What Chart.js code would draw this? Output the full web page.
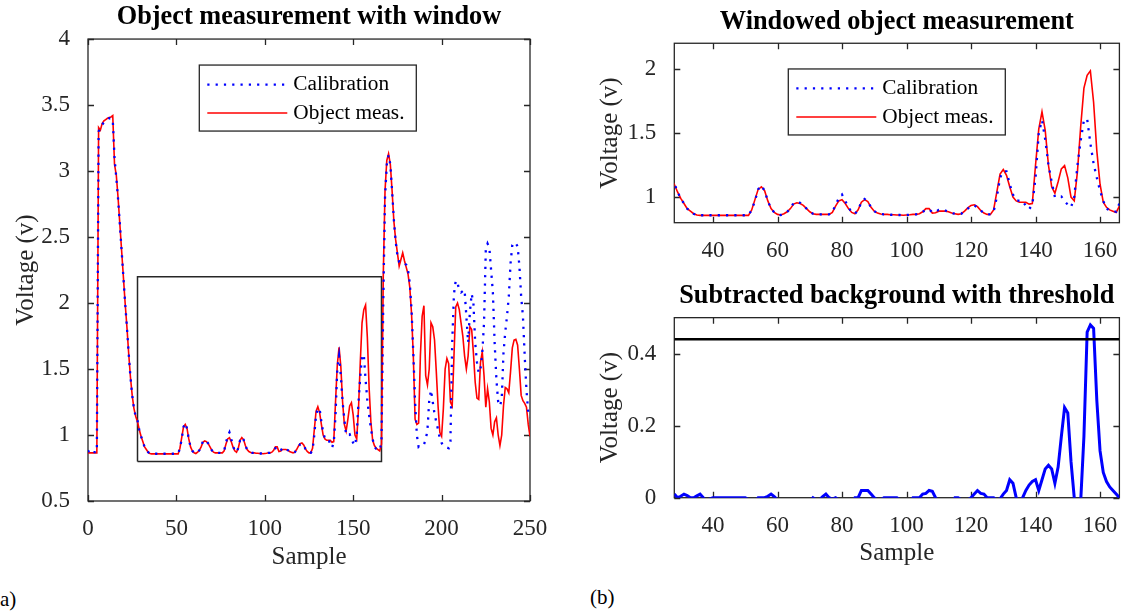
<!DOCTYPE html>
<html>
<head>
<meta charset="utf-8">
<script src="https://cdn.jsdelivr.net/npm/chart.js@4.4.1/dist/chart.umd.min.js"></script>
<style>
  body { margin: 0; background: #fff; width: 1121px; height: 612px; overflow: hidden; position: relative; font-family: "Liberation Serif", serif; }
  .panel { position: absolute; }
  .tag { position: absolute; font-size: 21px; color: #000; line-height: 1; }
</style>
</head>
<body>
<div class="panel" style="left:0;top:0;width:560px;height:580px"><canvas id="fullChart"></canvas></div>
<div class="panel" style="left:590px;top:0;width:531px;height:270px"><canvas id="windowChart"></canvas></div>
<div class="panel" style="left:590px;top:270px;width:531px;height:300px"><canvas id="diffChart"></canvas></div>
<div class="tag" style="left:-7px;top:589px">(a)</div>
<div class="tag" style="left:590px;top:587px">(b)</div>
<script>
const FONT = "'Liberation Serif', 'Times New Roman', serif";
const INK = "#262626";

// sample numbers 0..250
const samples = Array.from({ length: 251 }, (_, i) => i);

const calibration = [
  0.87, 0.89, 0.87, 0.87, 0.87, 0.87, 3.30, 3.32, 3.35, 3.37,
  3.38, 3.39, 3.40, 3.40, 3.39, 3.10, 2.95, 2.79, 2.60, 2.40,
  2.20, 2.00, 1.82, 1.62, 1.44, 1.30, 1.20, 1.14, 1.11, 1.04,
  0.99, 0.95, 0.91, 0.89, 0.87, 0.86, 0.858, 0.858, 0.858, 0.858,
  0.858, 0.858, 0.858, 0.858, 0.858, 0.858, 0.858, 0.858, 0.858, 0.858,
  0.858, 0.858, 0.90, 0.97, 1.06, 1.09, 1.05, 0.97, 0.91, 0.88,
  0.865, 0.86, 0.87, 0.885, 0.91, 0.955, 0.96, 0.955, 0.935, 0.91,
  0.885, 0.87, 0.865, 0.865, 0.865, 0.865, 0.865, 0.88, 0.94, 0.99,
  1.02, 0.97, 0.92, 0.88, 0.87, 0.90, 0.96, 0.985, 0.965, 0.92,
  0.89, 0.875, 0.868, 0.865, 0.865, 0.862, 0.862, 0.86, 0.86, 0.858,
  0.86, 0.862, 0.865, 0.865, 0.87, 0.885, 0.90, 0.905, 0.88, 0.885,
  0.90, 0.905, 0.895, 0.885, 0.875, 0.87, 0.865, 0.87, 0.89, 0.91,
  0.93, 0.935, 0.92, 0.895, 0.875, 0.865, 0.865, 0.885, 1.00, 1.15,
  1.20, 1.20, 1.10, 1.02, 0.975, 0.97, 0.97, 0.93, 0.905, 0.94,
  1.15, 1.50, 1.60, 1.45, 1.25, 1.12, 1.00, 1.00, 1.005, 0.97,
  0.94, 0.92, 1.00, 1.25, 1.44, 1.60, 1.61, 1.42, 1.26, 1.15,
  1.05, 0.97, 0.91, 0.895, 0.89, 0.885, 0.95, 2.00, 2.80, 3.05,
  3.12, 3.05, 2.85, 2.63, 2.47, 2.36, 2.31, 2.30, 2.30, 2.30,
  2.29, 2.25, 2.15, 1.95, 1.62, 1.25, 1.00, 0.91, 0.92, 0.93,
  0.93, 0.96, 1.04, 1.26, 1.34, 1.25, 1.16, 1.10, 1.04, 0.97,
  0.94, 0.92, 0.91, 0.905, 0.90, 0.95, 1.70, 2.07, 2.17, 2.15,
  2.10, 2.08, 2.09, 2.10, 1.90, 1.70, 1.93, 2.07, 2.00, 1.70,
  1.55, 1.47, 1.50, 1.62, 1.85, 2.40, 2.45, 2.42, 2.25, 2.08,
  1.70, 1.42, 1.25, 1.22, 1.27, 1.62, 1.78, 1.90, 2.05, 2.30,
  2.44, 2.46, 2.45, 2.43, 2.28, 2.05, 1.90, 1.60, 1.34, 1.17,
  1.13,
];

const objectMeas = [
  0.865, 0.865, 0.865, 0.865, 0.865, 0.865, 3.33, 3.31, 3.36, 3.38,
  3.39, 3.40, 3.405, 3.41, 3.42, 3.05, 2.97, 2.80, 2.60, 2.40,
  2.20, 2.00, 1.82, 1.62, 1.44, 1.30, 1.20, 1.14, 1.10, 1.04,
  0.99, 0.95, 0.91, 0.89, 0.87, 0.86, 0.857, 0.857, 0.857, 0.857,
  0.857, 0.857, 0.857, 0.857, 0.857, 0.857, 0.857, 0.857, 0.857, 0.857,
  0.857, 0.857, 0.90, 0.98, 1.06, 1.08, 1.05, 0.97, 0.91, 0.88,
  0.865, 0.86, 0.87, 0.885, 0.91, 0.945, 0.955, 0.95, 0.935, 0.91,
  0.885, 0.87, 0.865, 0.865, 0.865, 0.865, 0.865, 0.88, 0.93, 0.97,
  0.98, 0.95, 0.91, 0.88, 0.87, 0.90, 0.96, 0.98, 0.965, 0.92,
  0.89, 0.875, 0.868, 0.865, 0.865, 0.862, 0.862, 0.86, 0.86, 0.858,
  0.86, 0.862, 0.865, 0.865, 0.87, 0.885, 0.91, 0.91, 0.875, 0.878,
  0.89, 0.89, 0.89, 0.885, 0.875, 0.87, 0.865, 0.87, 0.89, 0.915,
  0.935, 0.94, 0.925, 0.895, 0.875, 0.865, 0.865, 0.90, 1.04, 1.18,
  1.215, 1.17, 1.08, 1.00, 0.97, 0.96, 0.96, 0.96, 0.945, 0.95,
  1.25, 1.53, 1.665, 1.52, 1.25, 1.08, 1.03, 1.12, 1.22, 1.245,
  1.15, 1.00, 0.97, 1.20, 1.55, 1.85, 1.95, 1.985, 1.74, 1.36,
  1.10, 0.96, 0.92, 0.90, 0.89, 0.88, 0.93, 2.20, 2.85, 3.08,
  3.13, 3.05, 2.85, 2.62, 2.48, 2.38, 2.28, 2.33, 2.38, 2.32,
  2.27, 2.22, 2.12, 1.92, 1.60, 1.12, 1.08, 1.09, 1.60, 1.90,
  1.98, 1.45, 1.38, 1.50, 1.85, 1.82, 1.72, 1.48, 1.22, 1.02,
  0.99, 1.20, 1.50, 1.58, 1.54, 1.25, 1.22, 1.60, 1.97, 2.00,
  1.95, 1.85, 1.75, 1.60, 1.50, 1.60, 1.82, 1.80, 1.62, 1.40,
  1.28, 1.27, 1.55, 1.63, 1.45, 1.21, 1.35, 1.25, 1.05, 1.00,
  1.10, 1.13, 1.00, 0.92, 1.00, 1.22, 1.36, 1.35, 1.32, 1.48,
  1.66, 1.72, 1.725, 1.68, 1.50, 1.30, 1.26, 1.24, 1.21, 1.08,
  0.99,
];

// window used for panel (b)
const windowSamples = [28, 166];
const windowVolts = [0.8, 2.2];

// subtracted background, samples 28..166
const diffSamples = Array.from({ length: 139 }, (_, i) => 28 + i);
const diffValues = [
  0.01, 0, 0.004, 0.01, 0.006, 0, 0, 0.005, 0.01, 0,
  -0.01, -0.003, 0, 0, 0, 0, 0, 0, 0, 0,
  0, 0, 0, -0.005, -0.012, -0.01, 0, 0, 0, 0.004,
  0.01, 0.003, -0.006, -0.012, -0.012, -0.012, -0.012, -0.012, -0.012, -0.012,
  -0.012, -0.012, -0.012, 0, -0.006, -0.006, 0.003, 0.01, 0, -0.004,
  0, -0.006, -0.012, -0.012, -0.012, -0.012, 0, 0, 0.02, 0.02,
  0.02, 0.01, 0, -0.006, -0.006, 0, 0, 0, 0, 0,
  -0.006, -0.012, -0.012, -0.012, 0, 0, 0, 0.01, 0.012, 0.02,
  0.018, 0, -0.012, -0.012, -0.012, -0.012, -0.012, 0, 0, -0.006,
  -0.012, -0.006, 0, 0.01, 0.02, 0.012, 0.01, 0, 0, 0,
  -0.006, -0.003, 0.01, 0.02, 0.05, 0.04, 0, -0.012, 0, 0.02,
  0.035, 0.045, 0.05, 0.02, 0.05, 0.08, 0.09, 0.08, 0.04, 0.085,
  0.17, 0.25, 0.235, 0.1, 0, -0.1, -0.01, 0.17, 0.46, 0.48,
  0.47, 0.27, 0.13, 0.07, 0.045, 0.03, 0.02, 0.01, 0,
];
const threshold = 0.44;

const fullXTicks = [0, 50, 100, 150, 200, 250];
const fullYTicks = [0.5, 1, 1.5, 2, 2.5, 3, 3.5, 4];
const windowXTicks = [40, 60, 80, 100, 120, 140, 160];
const windowYTicks = [1, 1.5, 2];
const diffYTicks = [0, 0.2, 0.4];

const TICK_LEN = 6;

const framePlugin = {
  id: "frame",
  beforeDatasetsDraw(chart) {
    const { ctx, chartArea: a, scales } = chart;
    ctx.save();
    ctx.strokeStyle = INK;
    ctx.lineWidth = 1.3;
    ctx.beginPath();
    scales.x.ticks.forEach((t) => {
      const px = Math.round(scales.x.getPixelForValue(t.value)) + 0.5;
      ctx.moveTo(px, a.bottom);
      ctx.lineTo(px, a.bottom - TICK_LEN);
      ctx.moveTo(px, a.top);
      ctx.lineTo(px, a.top + TICK_LEN);
    });
    scales.y.ticks.forEach((t) => {
      const py = Math.round(scales.y.getPixelForValue(t.value)) + 0.5;
      ctx.moveTo(a.left, py);
      ctx.lineTo(a.left + TICK_LEN, py);
      ctx.moveTo(a.right, py);
      ctx.lineTo(a.right - TICK_LEN, py);
    });
    ctx.stroke();
    ctx.strokeRect(a.left, a.top, a.right - a.left, a.bottom - a.top);
    ctx.restore();
  },
};

const boxLegendPlugin = {
  id: "boxLegend",
  afterDraw(chart, args, opts) {
    if (!opts || !opts.show) return;
    const { ctx, chartArea: a } = chart;
    const left = a.left + opts.x;
    const top = a.top + opts.y;
    ctx.save();
    ctx.fillStyle = "#fff";
    ctx.fillRect(left, top, 217, 66);
    ctx.strokeStyle = INK;
    ctx.lineWidth = 1.3;
    ctx.strokeRect(left, top, 217, 66);
    chart.data.datasets
      .filter((d) => d.inLegend)
      .forEach((d, i) => {
        const y = top + 19.5 + i * 28.5;
        ctx.beginPath();
        ctx.strokeStyle = d.borderColor;
        ctx.lineWidth = d.borderWidth;
        ctx.setLineDash(d.borderDash || []);
        ctx.moveTo(left + 8, y);
        ctx.lineTo(left + 88, y);
        ctx.stroke();
        ctx.setLineDash([]);
        ctx.fillStyle = "#000";
        ctx.font = `21.3px ${FONT}`;
        ctx.textBaseline = "middle";
        ctx.fillText(d.label, left + 94, y);
      });
    ctx.restore();
  },
};

Chart.register(framePlugin, boxLegendPlugin);

function toPoints(xs, ys) {
  return xs.map((x, i) => ({ x, y: ys[i] }));
}

function measurementSets() {
  return [
    {
      label: "Calibration",
      data: toPoints(samples, calibration),
      borderColor: "#0000ff",
      borderWidth: 2.3,
      borderDash: [2.2, 6.1],
      borderCapStyle: "butt",
      pointRadius: 0,
      inLegend: true,
      order: 1,
    },
    {
      label: "Object meas.",
      data: toPoints(samples, objectMeas),
      borderColor: "#ff0000",
      borderWidth: 1.6,
      pointRadius: 0,
      inLegend: true,
      order: 2,
    },
  ];
}

function buildOptions(p) {
  return {
    responsive: true,
    maintainAspectRatio: false,
    animation: false,
    events: [],
    layout: { padding: { left: 0, right: p.padRight, top: 0, bottom: 0 } },
    plugins: {
      legend: { display: false },
      tooltip: { enabled: false },
      title: {
        display: true,
        text: p.title,
        fullSize: false,
        color: "#000",
        font: { family: FONT, size: 26.3, weight: "bold" },
        padding: p.titlePad,
      },
      boxLegend: p.legend || { show: false },
    },
    scales: {
      x: {
        type: "linear",
        min: p.xMin,
        max: p.xMax,
        grid: { display: false },
        border: { display: false },
        afterBuildTicks: (s) => { s.ticks = p.xTicks.map((value) => ({ value })); },
        afterFit: (s) => { s.height = p.xHeight; s.paddingLeft = 0; s.paddingRight = 0; },
        ticks: {
          font: { family: FONT, size: 23 },
          color: INK,
          padding: 6,
          maxRotation: 0,
          autoSkip: false,
          callback: (v) => String(v),
        },
        title: p.xTitle
          ? { display: true, text: p.xTitle, color: INK, font: { family: FONT, size: 25 }, padding: { top: 0, bottom: p.xTitlePad } }
          : { display: false },
      },
      y: {
        type: "linear",
        min: p.yMin,
        max: p.yMax,
        grid: { display: false },
        border: { display: false },
        afterBuildTicks: (s) => { s.ticks = p.yTicks.map((value) => ({ value })); },
        afterFit: (s) => { s.width = p.yWidth; s.paddingTop = 0; s.paddingBottom = 0; },
        ticks: {
          font: { family: FONT, size: 23 },
          color: INK,
          padding: 10,
          autoSkip: false,
          callback: (v) => String(v),
        },
        title: { display: true, text: "Voltage (v)", color: INK, font: { family: FONT, size: 25 }, padding: { top: p.yTitlePad, bottom: 0 } },
      },
    },
  };
}

new Chart(document.querySelector("#fullChart"), {
  type: "line",
  data: {
    datasets: [
      ...measurementSets(),
      {
        label: "window",
        data: toPoints(
          [windowSamples[0], windowSamples[1], windowSamples[1], windowSamples[0], windowSamples[0]],
          [windowVolts[0], windowVolts[0], windowVolts[1], windowVolts[1], windowVolts[0]]
        ),
        borderColor: INK,
        borderWidth: 1.5,
        pointRadius: 0,
        order: 3,
      },
    ],
  },
  options: buildOptions({
    title: "Object measurement with window",
    titlePad: { top: 1.5, bottom: 6 },
    padRight: 30,
    xMin: 0, xMax: 250, xTicks: fullXTicks, xHeight: 79,
    xTitle: "Sample", xTitlePad: 8,
    yMin: 0.5, yMax: 4, yTicks: fullYTicks, yWidth: 88, yTitlePad: 11,
    legend: { show: true, x: 111.3, y: 26 },
  }),
});

new Chart(document.querySelector("#windowChart"), {
  type: "line",
  data: { datasets: measurementSets() },
  options: buildOptions({
    title: "Windowed object measurement",
    titlePad: { top: 6, bottom: 5.7 },
    padRight: 1.6,
    xMin: windowSamples[0], xMax: windowSamples[1], xTicks: windowXTicks, xHeight: 47.3,
    yMin: windowVolts[0], yMax: windowVolts[1], yTicks: windowYTicks, yWidth: 84.3, yTitlePad: 5,
    legend: { show: true, x: 114, y: 25.7 },
  }),
});

new Chart(document.querySelector("#diffChart"), {
  type: "line",
  data: {
    datasets: [
      {
        label: "Subtracted",
        data: toPoints(diffSamples, diffValues),
        borderColor: "#0000ff",
        borderWidth: 3,
        pointRadius: 0,
        order: 2,
      },
      {
        label: "Threshold",
        data: toPoints(windowSamples, [threshold, threshold]),
        borderColor: "#000",
        borderWidth: 2.5,
        pointRadius: 0,
        order: 1,
      },
    ],
  },
  options: buildOptions({
    title: "Subtracted background with threshold",
    titlePad: { top: 10.5, bottom: 5.6 },
    padRight: 1.6,
    xMin: windowSamples[0], xMax: windowSamples[1], xTicks: windowXTicks, xHeight: 72.3,
    xTitle: "Sample", xTitlePad: 2,
    yMin: 0, yMax: 0.5, yTicks: diffYTicks, yWidth: 84.3, yTitlePad: 5,
    legend: { show: false },
  }),
});
</script>
</body>
</html>
